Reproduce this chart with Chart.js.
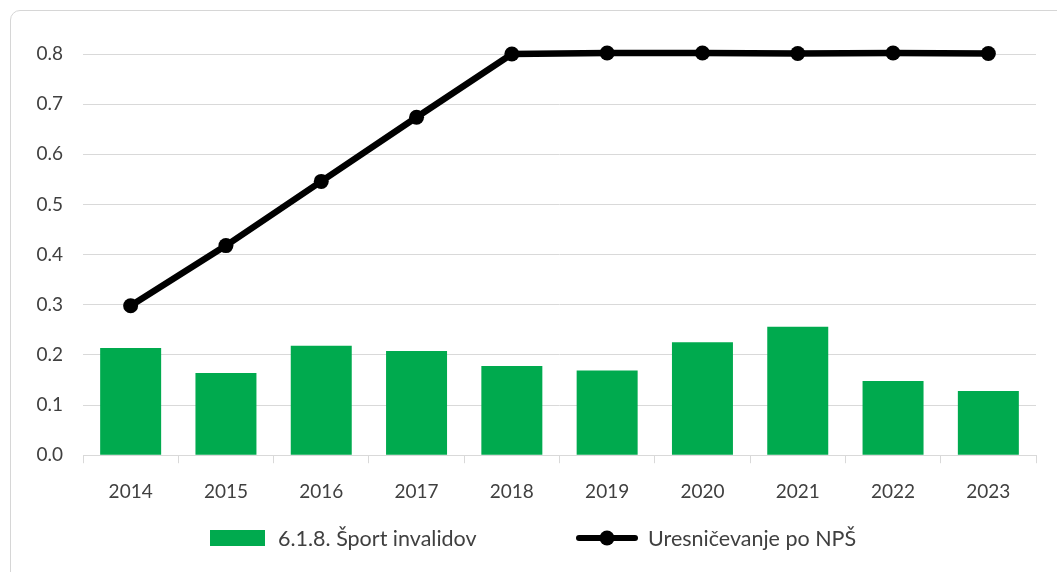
<!DOCTYPE html>
<html>
<head>
<meta charset="utf-8">
<script src="https://cdn.jsdelivr.net/npm/chart.js@4/dist/chart.umd.min.js"></script>
<style>
  html, body { margin: 0; padding: 0; background: #fff; }
  #wrap { position: relative; width: 1057px; height: 572px; overflow: hidden; }
  #frame { position: absolute; left: 10px; top: 10px; width: 1100px; height: 700px;
           border: 1.5px solid #d6d6d6; border-radius: 10px; box-sizing: border-box; }
  #cv { position: absolute; left: 0; top: 0; }
  #legend { position: absolute; left: 0; top: 522px; width: 1057px; height: 32px;
            font-family: Lato, sans-serif; font-size: 21.5px; color: #404040; }
  .item { position: absolute; top: 0; height: 32px; display: flex; align-items: center; white-space: nowrap; }
</style>
</head>
<body>
<div id="wrap">
  <div id="frame"></div>
  <canvas id="cv" width="1057" height="572"></canvas>
  <div id="legend"></div>
</div>
<script>
const categories = ['2014','2015','2016','2017','2018','2019','2020','2021','2022','2023'];
const barLabel = '6.1.8. Šport invalidov';
const barValues = [0.214, 0.164, 0.218, 0.208, 0.178, 0.169, 0.225, 0.256, 0.148, 0.128];
const lineLabel = 'Uresničevanje po NPŠ';
const lineValues = [0.298, 0.418, 0.546, 0.674, 0.800, 0.802, 0.802, 0.801, 0.802, 0.801];
const yTicks = [0.0, 0.1, 0.2, 0.3, 0.4, 0.5, 0.6, 0.7, 0.8];

const GREEN = '#00AA4E';
const GRID = '#d9d9d9';
const TXT = '#404040';
const FONT = { family: 'Lato, sans-serif', size: 19 };

const chart = new Chart(document.getElementById('cv'), {
  type: 'bar',
  data: {
    labels: categories,
    datasets: [
      { type: 'bar', label: barLabel, data: barValues, backgroundColor: GREEN,
        categoryPercentage: 1.0, barPercentage: 0.64, order: 2 },
      { type: 'line', label: lineLabel, data: lineValues, borderColor: '#000', backgroundColor: '#000',
        borderWidth: 6.5, pointRadius: 7.5, pointHoverRadius: 7.5, pointBackgroundColor: '#000',
        pointBorderWidth: 0, fill: false, tension: 0, clip: false, order: 1 }
    ]
  },
  options: {
    responsive: false,
    animation: false,
    devicePixelRatio: 1,
    layout: { padding: { left: 0, right: 21, top: 54, bottom: 52 } },
    plugins: { legend: { display: false }, tooltip: { enabled: false } },
    scales: {
      x: {
        offset: true,
        grid: { display: true, drawOnChartArea: false, drawTicks: true, tickLength: 8, color: GRID, offset: true },
        border: { display: true, color: GRID },
        ticks: { font: FONT, color: TXT, padding: 17, maxRotation: 0 }
      },
      y: {
        min: 0, max: 0.8,
        afterBuildTicks: (s) => { s.ticks = yTicks.map(v => ({ value: v })); },
        afterFit: (s) => { s.width = 83; },
        grid: { color: GRID, drawTicks: false, lineWidth: 1 },
        border: { display: false },
        ticks: { font: FONT, color: TXT, padding: 20, callback: (v) => Number(v).toFixed(1) }
      }
    }
  }
});

// HTML legend built from the chart's datasets
(function buildLegend() {
  const lg = document.getElementById('legend');
  const ds = chart.data.datasets;
  const positions = [210, 575];
  ds.forEach((d, i) => {
    const it = document.createElement('div');
    it.className = 'item';
    it.style.left = positions[i] + 'px';
    const mk = document.createElement('canvas');
    if (d.type === 'bar') {
      mk.width = 55; mk.height = 16;
      const c = mk.getContext('2d');
      c.fillStyle = d.backgroundColor; c.fillRect(0, 0, 55, 16);
      mk.style.marginRight = '13px';
    } else {
      mk.width = 64; mk.height = 18;
      const c = mk.getContext('2d');
      c.strokeStyle = '#000'; c.lineWidth = 6; c.lineCap = 'round';
      c.beginPath(); c.moveTo(4, 9); c.lineTo(60, 9); c.stroke();
      c.fillStyle = '#000'; c.beginPath(); c.arc(32, 9, 7.5, 0, Math.PI * 2); c.fill();
      mk.style.marginRight = '9px';
    }
    const tx = document.createElement('span');
    tx.textContent = d.label;
    it.appendChild(mk); it.appendChild(tx);
    lg.appendChild(it);
  });
})();
</script>
</body>
</html>
